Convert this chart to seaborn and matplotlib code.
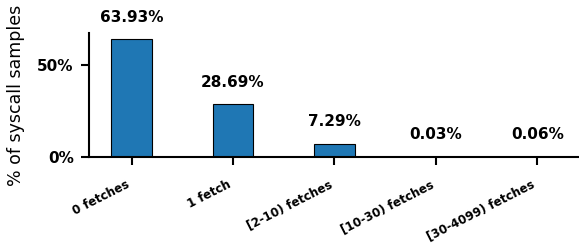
import matplotlib
matplotlib.use("Agg")
import matplotlib.pyplot as plt
import seaborn as sns
import pandas as pd
from matplotlib.ticker import FuncFormatter

# Data
categories = ['0 fetches', '1 fetch', '[2-10) fetches', '[10-30) fetches', '[30-4099) fetches']
percentages = [63.93, 28.69, 7.29, 0.03, 0.06]

df = pd.DataFrame({'bucket': categories, 'pct': percentages})

sns.set_style("white")
plt.rcParams['font.family'] = ['DejaVu Sans']
plt.rcParams['text.color'] = 'black'
plt.rcParams['axes.labelcolor'] = 'black'
plt.rcParams['xtick.color'] = 'black'
plt.rcParams['ytick.color'] = 'black'
plt.rcParams['axes.edgecolor'] = 'black'

fig = plt.figure(figsize=(5.79, 2.48), dpi=100)
ax = fig.add_axes([0.1537, 0.367, 0.846, 0.5])

sns.barplot(data=df, x='bucket', y='pct', color='#1f77b4', saturation=1,
            width=0.4, edgecolor='black', linewidth=0.8, ax=ax)

for i, v in enumerate(percentages):
    ax.annotate(f"{v:.2f}%", (i, v), xytext=(0, 10.5), textcoords='offset points',
                ha='center', va='bottom', fontsize=11, fontweight='bold', annotation_clip=False)

ax.set_xlim(-0.42, 4.41)
ax.set_ylim(0, 67.4)
ax.set_yticks([0, 50])
ax.yaxis.set_major_formatter(FuncFormatter(lambda y, _: f"{y:.0f}%"))
ax.set_xlabel('')
ax.set_ylabel('% of syscall samples', fontsize=12.5)
ax.yaxis.set_label_coords(-0.13, 0.5)

sns.despine(ax=ax)
for s in ['left', 'bottom']:
    ax.spines[s].set_linewidth(1.5)
ax.tick_params(axis='both', which='major', length=6, width=1.5, direction='out',
               bottom=True, left=True)
ax.tick_params(axis='y', pad=5)
ax.tick_params(axis='x', pad=9)
plt.setp(ax.get_yticklabels(), fontsize=11, fontweight='bold')
plt.setp(ax.get_xticklabels(), fontsize=8.6, fontweight='bold', rotation=27, ha='right')

fig.savefig('out.png', dpi=100)
